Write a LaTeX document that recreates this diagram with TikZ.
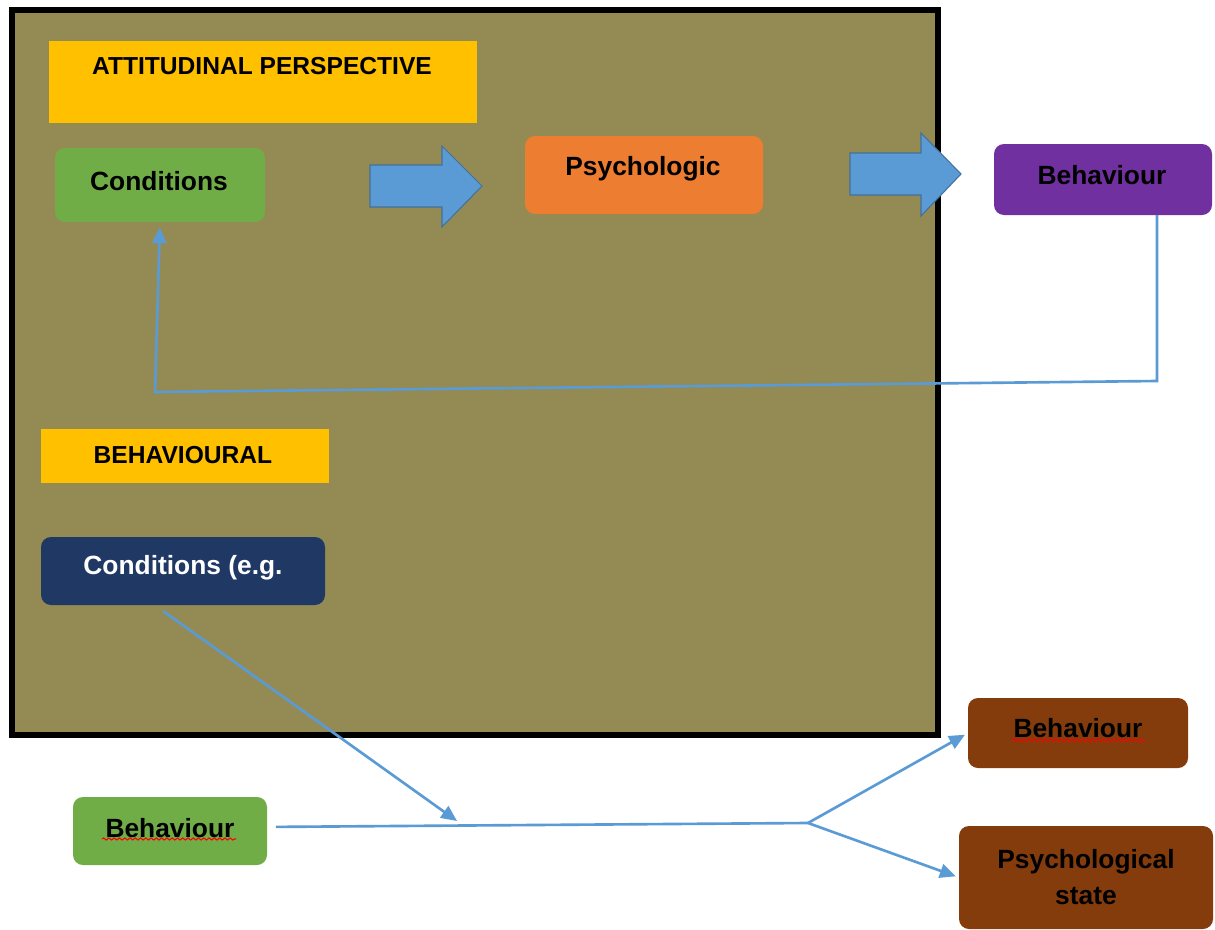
\documentclass[tikz,border=0pt]{standalone}
\usepackage{fontspec}
\setmainfont{Liberation Sans}
\usetikzlibrary{fit,arrows.meta,decorations.pathmorphing}
\definecolor{olivebg}{HTML}{948A54}
\definecolor{lineblue}{HTML}{5B9BD5}
\definecolor{arrowblue}{HTML}{5B9BD5}
\definecolor{arrowedge}{HTML}{41719C}
\definecolor{goldbox}{HTML}{FFC000}
\definecolor{greenbox}{HTML}{70AD47}
\definecolor{orangebox}{HTML}{ED7D31}
\definecolor{purplebox}{HTML}{7030A0}
\definecolor{navybox}{HTML}{203864}
\definecolor{brownbox}{HTML}{843C0C}
\begin{document}
\begin{tikzpicture}[x=0.02cm,y=-0.02cm,
  box/.style={inner sep=0pt, outer sep=0pt, draw=none},
  rbox/.style={box, rounded corners=0.2cm},
  lbl/.style={font=\fontsize{15}{18}\selectfont\bfseries, inner sep=0pt},
  caps/.style={font=\fontsize{14}{17}\selectfont\bfseries, inner sep=0pt},
  conn/.style={draw=lineblue, line width=1.5pt, -{Triangle[length=9pt,width=8pt]}},
  plainline/.style={draw=lineblue, line width=1.5pt},
  blockarrow/.style={fill=arrowblue, draw=arrowedge, line width=0.6pt},
  squig/.style={draw=red, line width=0.6pt, decorate, decoration={snake, amplitude=0.6pt, segment length=3pt}}
]
\useasboundingbox (0,0) rectangle (1215,930);
\fill[white] (0,0) rectangle (1215,930);
% frame
\node[box, fill=olivebg, draw=black, line width=3pt, fit={(12,10) (938,735)}] (frame) {};
% boxes
\node[box, fill=goldbox, fit={(49,41) (477,123)}] (att) {};
\node[caps] (atttxt) at (262,66) {ATTITUDINAL PERSPECTIVE};
\node[rbox, fill=greenbox, fit={(55,148) (265,222)}] (cond1) {};
\node[lbl] (cond1txt) at (159,181) {Conditions};
\node[rbox, fill=orangebox, fit={(525,136) (763,214)}] (psy) {};
\node[lbl] (psytxt) at (643,169) {Psychologic};
\node[rbox, fill=purplebox, fit={(994,144) (1212,215)}] (beh1) {};
\node[lbl] (beh1txt) at (1102,175) {Behaviour};
\node[box, fill=goldbox, fit={(41,429) (329,483)}] (behav) {};
\node[caps] (behavtxt) at (183,455) {BEHAVIOURAL};
\node[rbox, fill=navybox, fit={(41,537) (325,605)}] (navy) {};
\node[lbl, text=white] (navytxt) at (183,568) {Conditions (e.g.};
\node[rbox, fill=greenbox, fit={(73,797) (267,865)}] (gbeh) {};
\node[lbl] (gbehtxt) at (170,828) {Behaviour};
\node[rbox, fill=brownbox, fit={(968,698) (1188,768)}] (bbeh) {};
\node[lbl] (bbehtxt) at (1078,728) {Behaviour};
\node[rbox, fill=brownbox, fit={(959,826) (1213,929)}] (pstate) {};
\node[lbl, align=center, font=\fontsize{15}{20.5}\selectfont\bfseries] (pstatetxt) at (1086,877) {Psychological\\state};
% spell-check squiggles
\draw[squig] (102,839) -- (236,839);
\draw[squig] (1012,740) -- (1145,740);
% block arrows
\draw[blockarrow] (370,165) -- (442,165) -- (442,146) -- (482,186) -- (442,227) -- (442,207) -- (370,207) -- cycle;
\draw[blockarrow] (850,153) -- (921,153) -- (921,133) -- (961,174) -- (921,216) -- (921,195) -- (850,195) -- cycle;
% feedback loop
\coordinate (f1) at (1157,381);
\coordinate (f2) at (155,392);
\draw[conn, shorten >=3pt] (beh1.south -| f1) -- (f1) -- (f2) -- (cond1.south);
% behavioural connectors
\coordinate (navyout) at (163,611);
\coordinate (hit) at (457,821);
\coordinate (j) at (808,823);
\draw[conn] (navyout) -- (hit);
\draw[plainline, shorten <=5pt] ([yshift=2.3pt]gbeh.east) -- (j);
\draw[conn, shorten >=2pt] (j) -- (bbeh.west);
\draw[conn, shorten >=2pt] (j) -- (pstate.west);
\end{tikzpicture}
\end{document}
